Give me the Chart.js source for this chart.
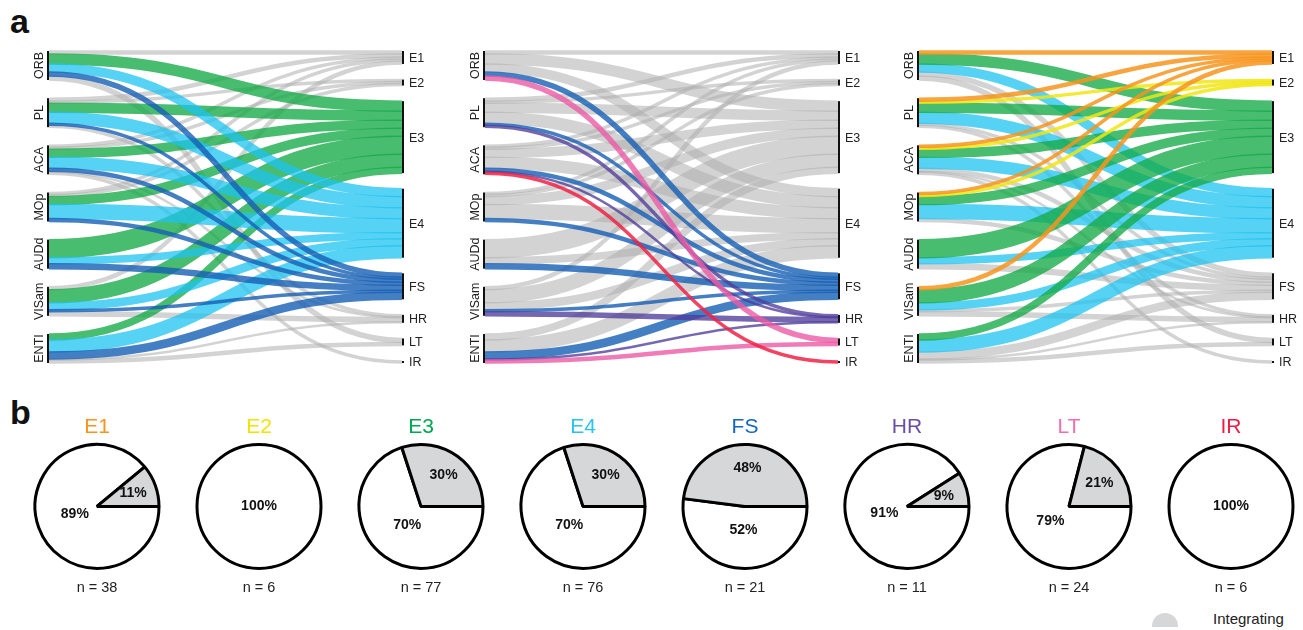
<!DOCTYPE html>
<html>
<head>
<meta charset="utf-8">
<script src="https://cdn.jsdelivr.net/npm/chart.js@4.4.1/dist/chart.umd.min.js"></script>
<style>
  body { margin: 0; width: 1303px; height: 630px; background: #fff; position: relative; overflow: hidden;
         font-family: Arial, "Liberation Sans", sans-serif; color: #222; }
  .panel { position: absolute; top: 0; height: 385px; }
  .pie { position: absolute; top: 407px; width: 162px; height: 190px; }
  .letter { position: absolute; left: 10px; font-size: 34px; line-height: 34px; font-weight: bold; color: #111; }
  .dome { position: absolute; left: 1152px; top: 613px; width: 26px; height: 14px; background: #d6d7d9; border-radius: 13px 13px 0 0; }
  .legend-text { position: absolute; left: 1213px; top: 610px; font-size: 15px; line-height: 18px; }
</style>
</head>
<body>
<div class="letter" style="top:4px">a</div>
<div class="letter" style="top:395px">b</div>

<canvas id="sankey1" class="panel" style="left:0px" width="433" height="385"></canvas>
<canvas id="sankey2" class="panel" style="left:436px" width="433" height="385"></canvas>
<canvas id="sankey3" class="panel" style="left:870px" width="433" height="385"></canvas>

<div id="pies"></div>
<div class="dome"></div><div class="legend-text">Integrating</div>

<script>
// brain regions (left column) and cell types (right column)
const sources = ['ORB', 'PL', 'ACA', 'MOp', 'AUDd', 'VISam', 'ENTI'];
const targets = ['E1', 'E2', 'E3', 'E4', 'FS', 'HR', 'LT', 'IR'];

// flow sizes from each region to each type, columns in `targets` order
const flowORB   = [3, 0, 10,  8, 4, 0, 4, 0];
const flowPL    = [3, 2,  9, 11, 2, 2, 0, 0];
const flowACA   = [2, 2,  8, 11, 3, 1, 0, 2];
const flowMOp   = [2, 2,  8, 14, 3, 0, 0, 0];
const flowAUDd  = [0, 0, 18,  6, 5, 0, 0, 0];
const flowVISam = [3, 0, 13,  7, 2, 4, 0, 0];
const flowENTI  = [0, 0,  6, 12, 7, 1, 3, 0];
const flows = [flowORB, flowPL, flowACA, flowMOp, flowAUDd, flowVISam, flowENTI];

// which types are coloured in each panel (later ones drawn on top)
const highlight1 = ['E3', 'E4', 'FS'];
const highlight2 = ['FS', 'HR', 'LT', 'IR'];
const highlight3 = ['E4', 'E3', 'E2', 'E1'];

// panel b
const integratingPct = [11, 0, 30, 30, 48, 9, 21, 0];
const cellCounts = [38, 6, 77, 76, 21, 11, 24, 6];

const ribbonColors = {
  E1: 'rgba(247,148,29,0.85)', E2: 'rgba(240,230,20,0.85)', E3: 'rgba(20,170,70,0.78)',
  E4: 'rgba(30,195,240,0.75)', FS: 'rgba(21,94,180,0.8)', HR: 'rgba(80,60,155,0.78)',
  LT: 'rgba(235,90,165,0.8)', IR: 'rgba(238,35,70,0.85)'
};
const grayRibbon = 'rgba(175,175,175,0.55)';
const titleColors = ['#f7941d', '#f2e300', '#00a651', '#29c3f2', '#1565c0', '#6a4fa3', '#f06eaa', '#ed1c46'];

Chart.defaults.font.family = 'Arial, "Liberation Sans", sans-serif';

const COL_SPAN = 312;    // vertical extent of each node column, flow units
const RIBBON_EXTRA = 1.5; // ribbons are drawn slightly wider than their share, as in the figure

function layoutColumn(totals) {
  const sum = totals.reduce((a, b) => a + b, 0);
  const gap = (COL_SPAN - sum) / (totals.length - 1);
  let y = 0;
  return totals.map(t => { const n = { y0: y, y1: y + t }; y += t + gap; return n; });
}

const srcTotals = flows.map(r => r.reduce((a, b) => a + b, 0));
const tgtTotals = targets.map((t, j) => flows.reduce((a, r) => a + r[j], 0));
const srcNodes = layoutColumn(srcTotals);
const tgtNodes = layoutColumn(tgtTotals);

// stack links: at the source ordered by target, at the target ordered by source
const links = [];
const tgtOffset = targets.map(() => 0);
flows.forEach((row, i) => {
  let off = 0;
  row.forEach((v, j) => {
    if (!v) return;
    links.push({ s: i, t: j, value: v, sy: srcNodes[i].y0 + off + v / 2, ty: 0 });
    off += v;
  });
});
targets.forEach((t, j) => {
  links.filter(l => l.t === j).sort((a, b) => a.s - b.s).forEach(l => {
    l.ty = tgtNodes[j].y0 + tgtOffset[j] + l.value / 2;
    tgtOffset[j] += l.value;
  });
});

const sankeyPlugin = {
  id: 'sankey',
  beforeDatasetsDraw(chart, args, opts) {
    const { ctx, scales: { x, y } } = chart;
    const unit = Math.abs(y.getPixelForValue(1) - y.getPixelForValue(0));
    const x0 = x.getPixelForValue(0), x1 = x.getPixelForValue(1), xm = (x0 + x1) / 2;
    const hl = opts.highlight || [];
    const rank = l => hl.indexOf(targets[l.t]);
    const ordered = links.slice().sort((a, b) => rank(a) - rank(b));
    ctx.save();
    ctx.lineCap = 'butt';
    ordered.forEach(l => {
      const ys = y.getPixelForValue(l.sy), yt = y.getPixelForValue(l.ty);
      ctx.beginPath();
      ctx.moveTo(x0, ys);
      ctx.bezierCurveTo(xm, ys, xm, yt, x1, yt);
      ctx.lineWidth = l.value * unit + RIBBON_EXTRA;
      ctx.strokeStyle = rank(l) >= 0 ? ribbonColors[targets[l.t]] : grayRibbon;
      ctx.stroke();
    });
    // node bars
    ctx.fillStyle = '#111';
    srcNodes.forEach(n => {
      const a = y.getPixelForValue(n.y0), b = y.getPixelForValue(n.y1);
      ctx.fillRect(x0 - 2, a, 2, b - a);
    });
    tgtNodes.forEach(n => {
      const a = y.getPixelForValue(n.y0), b = y.getPixelForValue(n.y1);
      ctx.fillRect(x1, a, 2, Math.max(b - a, 2));
    });
    // labels
    ctx.fillStyle = '#222';
    ctx.font = '12.5px Arial, "Liberation Sans", sans-serif';
    ctx.textBaseline = 'middle';
    srcNodes.forEach((n, i) => {
      const c = (y.getPixelForValue(n.y0) + y.getPixelForValue(n.y1)) / 2;
      ctx.save();
      ctx.translate(x0 - 9, c);
      ctx.rotate(-Math.PI / 2);
      ctx.textAlign = 'center';
      ctx.fillText(sources[i], 0, 0);
      ctx.restore();
    });
    ctx.textAlign = 'left';
    tgtNodes.forEach((n, j) => {
      const c = (y.getPixelForValue(n.y0) + y.getPixelForValue(n.y1)) / 2;
      ctx.fillText(targets[j], x1 + 7, c + 1);
    });
    ctx.restore();
  }
};

function makeSankey(id, highlight) {
  new Chart(document.getElementById(id), {
    type: 'scatter',
    data: { datasets: [{ data: [] }] },
    options: {
      responsive: false,
      animation: false,
      events: [],
      layout: { padding: { left: 49, right: 31, top: 51, bottom: 22 } },
      scales: {
        x: { type: 'linear', min: 0, max: 1, display: false },
        y: { type: 'linear', min: 0, max: COL_SPAN, reverse: true, display: false }
      },
      plugins: { legend: { display: false }, tooltip: { enabled: false }, sankey: { highlight: highlight } }
    },
    plugins: [sankeyPlugin]
  });
}
makeSankey('sankey1', highlight1);
makeSankey('sankey2', highlight2);
makeSankey('sankey3', highlight3);

// percentage labels inside the pies; full circles get their outline here (no radial seam)
const pctPlugin = {
  id: 'pctLabels',
  afterDatasetsDraw(chart) {
    const { ctx } = chart;
    const vals = chart.data.datasets[0].data;
    const meta = chart.getDatasetMeta(0);
    ctx.save();
    meta.data.forEach((arc, i) => {
      if (!vals[i]) return;
      const p = arc.getProps(['x', 'y', 'startAngle', 'endAngle', 'outerRadius'], true);
      let px = p.x, py = p.y;
      if (vals[i] < 100) {
        const mid = (p.startAngle + p.endAngle) / 2;
        const r = p.outerRadius * (i === 1 ? 0.62 : 0.38);
        px += Math.cos(mid) * r;
        py += Math.sin(mid) * r;
      } else {
        ctx.beginPath();
        ctx.arc(p.x, p.y, p.outerRadius, 0, Math.PI * 2);
        ctx.lineWidth = 3;
        ctx.strokeStyle = '#000';
        ctx.stroke();
      }
      ctx.font = 'bold 14px Arial, "Liberation Sans", sans-serif';
      ctx.fillStyle = '#111';
      ctx.textAlign = 'center';
      ctx.textBaseline = 'middle';
      ctx.fillText(vals[i] + '%', px, py);
    });
    ctx.restore();
  }
};

const pieBox = document.getElementById('pies');
targets.forEach((t, k) => {
  const c = document.createElement('canvas');
  c.className = 'pie';
  c.width = 162; c.height = 190;
  c.style.left = (16 + k * 162) + 'px';
  pieBox.appendChild(c);
  new Chart(c, {
    type: 'pie',
    data: {
      labels: ['Non-integrating', 'Integrating'],
      datasets: [{
        data: [100 - integratingPct[k], integratingPct[k]],
        backgroundColor: ['#ffffff', '#d6d7d9'],
        borderColor: '#000',
        borderWidth: ctx => (ctx.raw > 0 && ctx.raw < 100 ? 3 : 0)
      }]
    },
    options: {
      responsive: false,
      animation: false,
      events: [],
      rotation: 90,
      radius: 62,
      plugins: {
        legend: { display: false },
        tooltip: { enabled: false },
        title: { display: true, text: t, color: titleColors[k], font: { size: 21, weight: 'normal' }, padding: { top: 8, bottom: 2 } },
        subtitle: { display: true, position: 'bottom', text: 'n = ' + cellCounts[k], color: '#222', font: { size: 14.5 }, padding: { top: 9, bottom: 0 } }
      }
    },
    plugins: [pctPlugin]
  });
});
</script>
</body>
</html>
